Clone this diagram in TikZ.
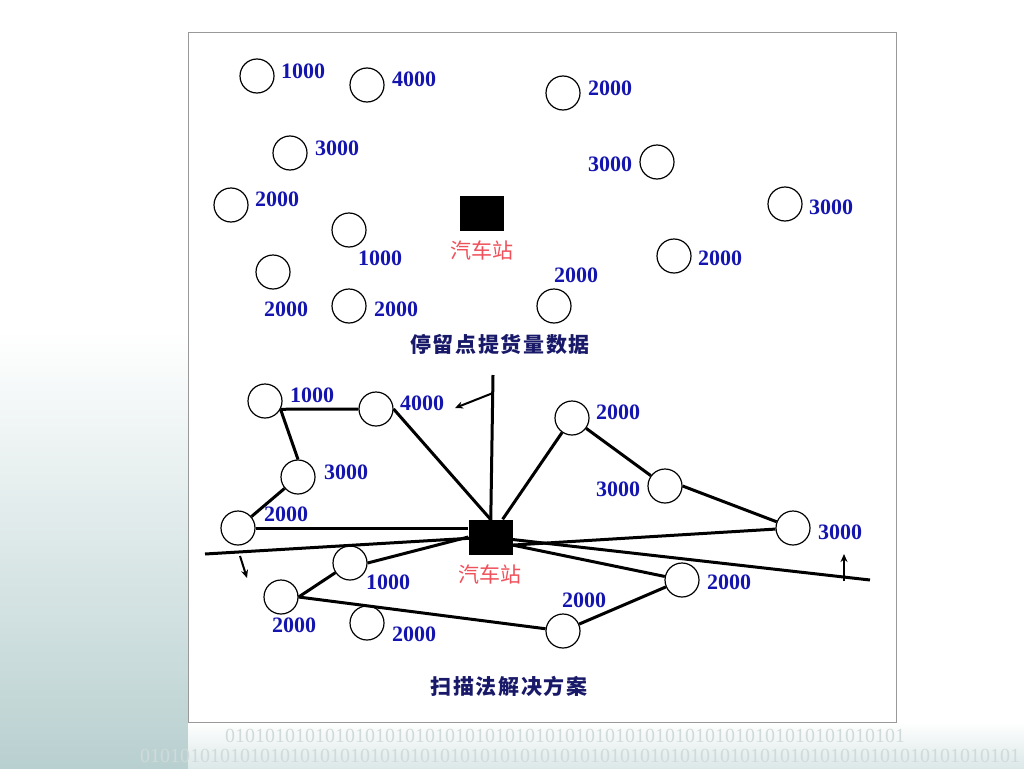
\documentclass[tikz,border=0pt]{standalone}
\usepackage{fontspec}
\setmainfont{Liberation Serif}
\newfontfamily\cjk{Noto Sans CJK SC}
\newfontfamily\cjkwide[LetterSpace=8]{Noto Sans CJK SC}
\usetikzlibrary{arrows.meta}

\definecolor{numblue}{RGB}{20,20,175}
\definecolor{stationred}{RGB}{240,80,90}
\definecolor{titlenavy}{RGB}{25,25,105}
\definecolor{bitgray}{RGB}{208,218,218}
\definecolor{slideteal}{RGB}{185,208,208}

\tikzset{
  pickup/.style={draw,circle,minimum size=34pt,line width=1.2pt},
  depot/.style={fill=black,minimum width=44pt,minimum height=35pt},
  qty/.style={text=numblue,font=\bfseries\fontsize{22}{22}\selectfont},
  station/.style={text=stationred,font=\cjk\fontsize{21}{21}\selectfont},
  caption/.style={text=titlenavy,font=\cjkwide\bfseries\fontsize{21}{21}\selectfont},
  route/.style={line width=3pt},
  sweeparrow/.style={line width=2pt,-{Stealth[length=8pt,width=7pt]}}
}
\tikzstyle{every node}=[inner sep=0pt]

\begin{document}
\begin{tikzpicture}[x=1pt,y=-1pt]
    \useasboundingbox (0,0) rectangle (1024,768);
    \fill[white] (0,0) rectangle (1024,768);
    \shade[top color=white,bottom color=slideteal] (0,330) rectangle (188,768);
    \shade[top color=white,bottom color=slideteal!50] (188,722) rectangle (1024,768);
    \node (bits1) at (565,736) {\color{bitgray}\fontsize{20}{20}\selectfont\foreach \n in {1,...,34}{01}};
    \node (bits2) at (580,756) {\color{bitgray}\fontsize{20}{20}\selectfont\foreach \n in {1,...,44}{01}};
    \draw[draw=gray!80,line width=1pt,fill=white] (188,33) rectangle (896,722);

    \node [pickup] (a) at (257,76)  {};
    \node [pickup] (b) at (367,85)  {};
    \node [pickup] (c) at (563,93)  {};
    \node [pickup] (d) at (290,153) {};
    \node [pickup] (e) at (657,162) {};
    \node [pickup] (f) at (231,205) {};
    \node [pickup] (g) at (785,204) {};
    \node [pickup] (h) at (349,230) {};
    \node [pickup] (i) at (674,256) {};
    \node [pickup] (j) at (273,272) {};
    \node [pickup] (k) at (349,306) {};
    \node [pickup] (l) at (554,306) {};
    \node [qty] (a-q) at (303,71)  {1000};
    \node [qty] (b-q) at (414,79)  {4000};
    \node [qty] (c-q) at (610,88)  {2000};
    \node [qty] (d-q) at (337,148) {3000};
    \node [qty] (e-q) at (610,164) {3000};
    \node [qty] (f-q) at (277,199) {2000};
    \node [qty] (g-q) at (831,207) {3000};
    \node [qty] (h-q) at (380,258) {1000};
    \node [qty] (i-q) at (720,258) {2000};
    \node [qty] (j-q) at (286,309) {2000};
    \node [qty] (k-q) at (396,309) {2000};
    \node [qty] (l-q) at (576,275) {2000};
    \node [depot] (dep1) at (482,213.5) {};
    \node [station] (dep1-t) at (482,250) {汽车站};
    \node [caption] (title1) at (500,344) {停留点提货量数据};

    \node [pickup] (A) at (265,401) {};
    \node [pickup] (B) at (376,409) {};
    \node [pickup] (C) at (298,477) {};
    \node [pickup] (D) at (238,528) {};
    \node [pickup] (E) at (350,563) {};
    \node [pickup] (F) at (281,597) {};
    \node [pickup] (G) at (367,623) {};
    \node [pickup] (H) at (572,418) {};
    \node [pickup] (I) at (665,486) {};
    \node [pickup] (J) at (793,528) {};
    \node [pickup] (K) at (682,580) {};
    \node [pickup] (L) at (563,631) {};
    \node [qty] (A-q) at (312,395) {1000};
    \node [qty] (B-q) at (422,403) {4000};
    \node [qty] (C-q) at (346,472) {3000};
    \node [qty] (D-q) at (286,514) {2000};
    \node [qty] (E-q) at (388,582) {1000};
    \node [qty] (F-q) at (294,625) {2000};
    \node [qty] (G-q) at (414,634) {2000};
    \node [qty] (H-q) at (618,412) {2000};
    \node [qty] (I-q) at (618,489) {3000};
    \node [qty] (J-q) at (840,532) {3000};
    \node [qty] (K-q) at (729,582) {2000};
    \node [qty] (L-q) at (584,600) {2000};
    \node [depot] (dep2) at (490.5,537) {};
    \node [station] (dep2-t) at (490,574) {汽车站};
    \node [caption] (title2) at (509,686) {扫描法解决方案};

    \coordinate (rayup)    at (493,375);
    \coordinate (rayleft)  at (205,554);
    \coordinate (rayright) at (870,580);
    \coordinate (up-s)    at (493,393);
    \coordinate (up-e)    at (455,408);
    \coordinate (left-s)  at (240,556);
    \coordinate (left-e)  at (247,578);
    \coordinate (right-s) at (844,581);
    \coordinate (right-e) at (844,554);

    \draw [route] (dep2.center) -- (rayup);
    \draw [route] (dep2.center) -- (rayleft);
    \draw [route] (dep2.center) -- (rayright);
    \draw [sweeparrow] (up-s) -- (up-e);
    \draw [sweeparrow] (left-s) -- (left-e);
    \draw [sweeparrow] (right-s) -- (right-e);

    \draw [route] (A.-28) -- (B.west);
    \draw [route] (A.-28) -- (C.north);
    \draw [route] (C) -- (D);
    \draw [route] (D) -- (D -| dep2.west);
    \draw [route] (B.east) -- (dep2.north);
    \draw [route] (dep2) -- (H);
    \draw [route] (H) -- (I);
    \draw [route] (I.east) -- (J);
    \draw [route] (J) -- (dep2.-20);
    \draw [route] (K) -- (dep2.-20);
    \draw [route] (K) -- (L);
    \draw [route] (L) -- (F.east);
    \draw [route] (F.east) -- (E);
    \draw [route] (E.east) -- (dep2.west);
\end{tikzpicture}
\end{document}
